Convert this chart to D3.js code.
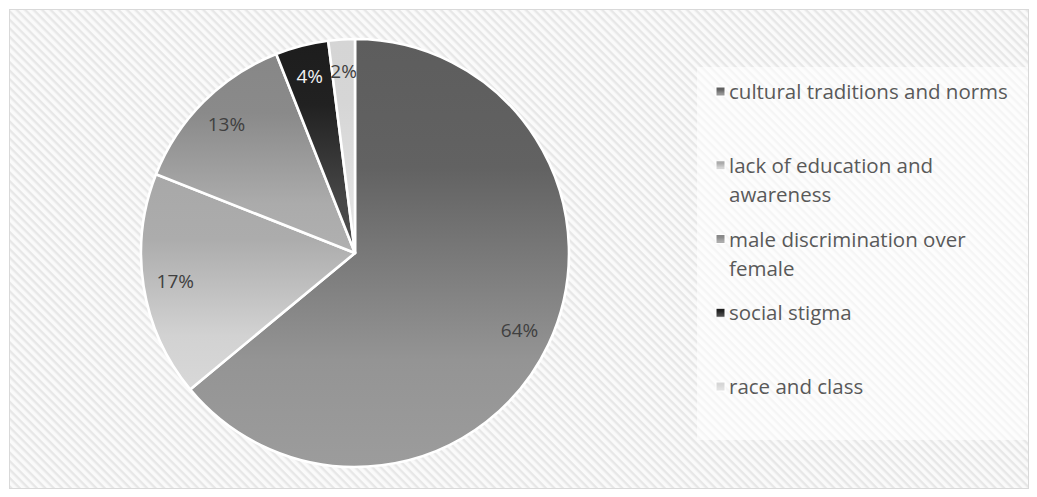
<!DOCTYPE html>
<html>
<head>
<meta charset="utf-8">
<script src="https://cdn.jsdelivr.net/npm/d3@7"></script>
<style>
  html, body { margin: 0; padding: 0; background: #ffffff; }
  svg { display: block; }
</style>
</head>
<body>
<svg id="chart" width="1037" height="497"></svg>
<script>
// Causes of gender inequality, share of responses (%)
const categories = [
  "cultural traditions and norms",
  "lack of education and awareness",
  "male discrimination over female",
  "social stigma",
  "race and class"
];
const values = [64, 17, 13, 4, 2];
const labelTexts = ["64%", "17%", "13%", "4%", "2%"];
// Legend text split onto lines
const legendLines = [
  ["cultural traditions and norms"],
  ["lack of education and", "awareness"],
  ["male discrimination over", "female"],
  ["social stigma"],
  ["race and class"]
];
// Gradient palette per slice: top tone, bottom tone
const topColors = ["#5d5d5d", "#a8a8a8", "#878787", "#1d1d1d", "#d5d5d5"];
const bottomColors = ["#9c9c9c", "#d8d8d8", "#b0b0b0", "#4d4d4d", "#e3e3e3"];
const labelColors = ["#404040", "#404040", "#404040", "#f2f2f2", "#404040"];

const FONT = "'Open Sans', 'Noto Sans', sans-serif";
const svg = d3.select("#chart");
const defs = svg.append("defs");

// Diagonal hatch used for the chart area
const hatch = defs.append("pattern")
  .attr("id", "hatch")
  .attr("patternUnits", "userSpaceOnUse")
  .attr("width", 6).attr("height", 6)
  .attr("patternTransform", "rotate(45)");
hatch.append("rect").attr("width", 6).attr("height", 6).attr("fill", "#fafafa");
hatch.append("rect").attr("width", 6).attr("height", 2.4).attr("fill", "#e7e7e7");

// Vertical gradients for slices and swatches
categories.forEach((c, i) => {
  const g = defs.append("linearGradient")
    .attr("id", "grad" + i)
    .attr("x1", 0).attr("y1", 0).attr("x2", 0).attr("y2", 1);
  const mix = d3.interpolateRgb(topColors[i], bottomColors[i]);
  g.append("stop").attr("offset", "0%").attr("stop-color", mix(0));
  g.append("stop").attr("offset", "30%").attr("stop-color", mix(0.08));
  g.append("stop").attr("offset", "75%").attr("stop-color", mix(0.88));
  g.append("stop").attr("offset", "100%").attr("stop-color", mix(1));
});

// Chart area with border
svg.append("rect")
  .attr("x", 9.5).attr("y", 9.5)
  .attr("width", 1019).attr("height", 479)
  .attr("fill", "url(#hatch)")
  .attr("stroke", "#d9d9d9").attr("stroke-width", 1);

// Pie
const cx = 355, cy = 253, radius = 214;
const pie = d3.pie().sort(null).value(d => d)
  .startAngle(0).endAngle(2 * Math.PI);
const arcs = pie(values);
const arc = d3.arc().innerRadius(0).outerRadius(radius);
const labelArc = d3.arc().innerRadius(radius * 0.85).outerRadius(radius * 0.85);

const gPie = svg.append("g").attr("transform", `translate(${cx},${cy})`);
gPie.selectAll("path.slice")
  .data(arcs)
  .join("path")
  .attr("class", "slice")
  .attr("d", arc)
  .attr("fill", (d, i) => `url(#grad${i})`)
  .attr("stroke", "#ffffff")
  .attr("stroke-width", 2.6)
  .attr("stroke-linejoin", "round");

gPie.selectAll("text.pct")
  .data(arcs)
  .join("text")
  .attr("class", "pct")
  .attr("transform", d => {
    const [x, y] = labelArc.centroid(d);
    return `translate(${x},${y})`;
  })
  .attr("text-anchor", "middle")
  .attr("dy", "0.35em")
  .attr("font-family", FONT)
  .attr("font-size", 19)
  .attr("fill", (d, i) => labelColors[i])
  .text((d, i) => labelTexts[i]);

// Legend
const legend = svg.append("g");
legend.append("rect")
  .attr("x", 697).attr("y", 67)
  .attr("width", 331).attr("height", 373)
  .attr("fill", "#ffffff").attr("fill-opacity", 0.6);

const rowY = d3.scalePoint().domain(categories).range([92, 387]);
const item = legend.selectAll("g.item")
  .data(categories)
  .join("g")
  .attr("class", "item")
  .attr("transform", d => `translate(0,${rowY(d)})`);

item.append("rect")
  .attr("x", 716).attr("y", -5)
  .attr("width", 9).attr("height", 9)
  .attr("fill", (d, i) => `url(#grad${i})`)
  .attr("stroke", "#ffffff").attr("stroke-width", 1);

item.append("text")
  .attr("x", 729).attr("y", 0)
  .attr("font-family", FONT)
  .attr("font-size", 20.5)
  .attr("fill", "#595959")
  .selectAll("tspan")
  .data((d, i) => legendLines[i])
  .join("tspan")
  .attr("x", 729)
  .attr("dy", (d, j) => j === 0 ? "0.35em" : "1.42em")
  .text(d => d);
</script>
</body>
</html>
